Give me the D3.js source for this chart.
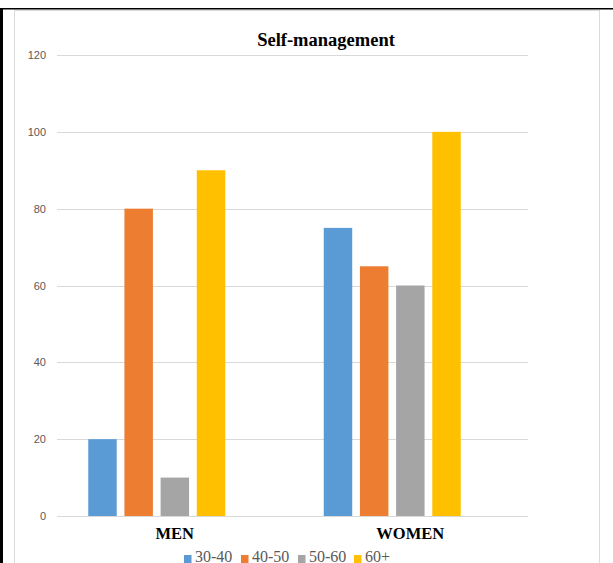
<!DOCTYPE html>
<html><head><meta charset="utf-8">
<script src="https://cdn.jsdelivr.net/npm/d3@7"></script>
<style>body{margin:0;background:#fff}svg{display:block}</style>
</head><body>
<script>
const categories = ["MEN", "WOMEN"];
const seriesNames = ["30-40", "40-50", "50-60", "60+"];
const menValues = [20, 80, 10, 90];
const womenValues = [75, 65, 60, 100];
const yTicks = [0, 20, 40, 60, 80, 100, 120];
const colors = ["#5B9BD5", "#ED7D31", "#A5A5A5", "#FFC000"];
const title = "Self-management";

const data = categories.map((c, i) => ({cat: c, values: [menValues, womenValues][i]}));

const W = 613, H = 563;
const svg = d3.select("body").append("svg").attr("width", W).attr("height", H);

// page decorations
svg.append("rect").attr("x", 14.5).attr("y", 10.5).attr("width", 585).attr("height", 600)
  .attr("fill", "#fff").attr("stroke", "#d9d9d9");
svg.append("rect").attr("x", 0).attr("y", 8).attr("width", W).attr("height", 1.5).attr("fill", "#000");
svg.append("rect").attr("x", 0).attr("y", 8).attr("width", 3).attr("height", H).attr("fill", "#000");

const y = d3.scaleLinear().domain([0, 120]).range([516, 55]);
const xGrid = d3.scaleBand().domain(categories).range([57, 528]);
const xBars = d3.scaleBand().domain(categories).range([39, 510]);
const groupW = 137;
const xs = d3.scaleBand().domain(seriesNames).range([0, groupW]).paddingInner(0.213).paddingOuter(0);

// gridlines
const gridAxis = d3.axisLeft(y).tickValues(yTicks).tickSize(-(528 - 57)).tickFormat(d => d);
const g = svg.append("g").attr("transform", "translate(57,0)").call(gridAxis);
g.select(".domain").remove();
g.selectAll(".tick line").attr("stroke", "#d9d9d9").attr("shape-rendering", "crispEdges");
g.selectAll(".tick text").attr("x", -11).attr("fill", "#595959")
  .attr("font-family", "Liberation Sans, Arial, sans-serif").attr("font-size", 11);

// bars
const groups = svg.append("g").selectAll("g").data(data).join("g")
  .attr("transform", d => `translate(${xBars(d.cat) + xBars.bandwidth() / 2 - groupW / 2},0)`);
groups.selectAll("rect").data(d => d.values.map((v, i) => ({name: seriesNames[i], v, i})))
  .join("rect")
  .attr("x", d => xs(d.name)).attr("width", xs.bandwidth())
  .attr("y", d => y(d.v)).attr("height", d => y(0) - y(d.v))
  .attr("fill", d => colors[d.i]);

// category labels
svg.append("g").selectAll("text").data(categories).join("text")
  .attr("x", d => xGrid(d) + xGrid.bandwidth() / 2).attr("y", 539)
  .attr("text-anchor", "middle").attr("font-family", "Liberation Serif, Times New Roman, serif")
  .attr("font-weight", "bold").attr("font-size", 16.5).attr("fill", "#000").text(d => d);

// title
svg.append("text").attr("x", 326).attr("y", 45.5).attr("text-anchor", "middle")
  .attr("font-family", "Liberation Serif, Times New Roman, serif").attr("font-weight", "bold")
  .attr("font-size", 18.5).attr("fill", "#000").text(title);

// legend
const legX = [184, 241, 298, 354];
const leg = svg.append("g").selectAll("g").data(seriesNames).join("g")
  .attr("transform", (d, i) => `translate(${legX[i]},0)`);
leg.append("rect").attr("x", 0).attr("y", 555).attr("width", 7.5).attr("height", 8)
  .attr("fill", (d, i) => colors[i]);
leg.append("text").attr("x", 11).attr("y", 562)
  .attr("font-family", "Liberation Serif, Times New Roman, serif").attr("font-size", 16)
  .attr("fill", "#595959").text(d => d);
</script>
</body></html>
